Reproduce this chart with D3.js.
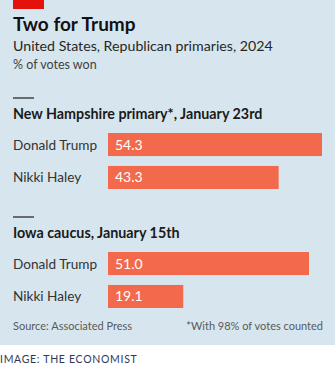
<!DOCTYPE html>
<html>
<head>
<meta charset="utf-8">
<script src="https://cdn.jsdelivr.net/npm/d3@7"></script>
<style>
  body { margin: 0; background: #fff; }
  text { font-family: Lato, "Open Sans", sans-serif; }
</style>
</head>
<body>
<svg id="chart"></svg>
<script>
// Results for each contest
var contests = ["New Hampshire primary*, January 23rd", "Iowa caucus, January 15th"];
var candidates = ["Donald Trump", "Nikki Haley"];
var nhValues = [54.3, 43.3];
var iowaValues = [51.0, 19.1];
var seriesValues = [nhValues, iowaValues];

var width = 336;
var height = 372;
var panelHeight = 345;
var barColor = "#f2694b";

var svg = d3.select("#chart")
    .attr("width", width)
    .attr("height", height);

// Background panel
svg.append("rect")
    .attr("width", 335)
    .attr("height", panelHeight)
    .attr("fill", "#d7e6ee");

// Red tag at the top
svg.append("rect")
    .attr("x", 13).attr("y", 0)
    .attr("width", 31).attr("height", 9)
    .attr("fill", "#e3120b");

svg.append("text")
    .attr("x", 13).attr("y", 31)
    .attr("font-size", 19).attr("font-weight", 700)
    .attr("fill", "#121212")
    .text("Two for Trump");

svg.append("text")
    .attr("x", 13).attr("y", 51)
    .attr("font-size", 14.2)
    .attr("fill", "#262626")
    .text("United States, Republican primaries, 2024");

svg.append("text")
    .attr("x", 13).attr("y", 69)
    .attr("font-size", 12.5)
    .attr("fill", "#3f3f3f")
    .text("% of votes won");

// Shared x scale: zero sits at the left edge of the bars
var x = d3.scaleLinear([0, 54.3], [108, 322]);

var y = d3.scaleBand()
    .domain(candidates)
    .range([0, 56])
    .paddingInner(0.3)
    .paddingOuter(0);

var blockTops = [98, 217];

contests.forEach(function (name, k) {
    var g = svg.append("g")
        .attr("transform", "translate(0," + blockTops[k] + ")");

    g.append("line")
        .attr("x1", 13).attr("x2", 34)
        .attr("y1", 0).attr("y2", 0)
        .attr("stroke", "#1a1a1a")
        .attr("stroke-width", 1.2);

    g.append("text")
        .attr("x", 13).attr("y", 21)
        .attr("font-size", 14.3).attr("font-weight", 700)
        .attr("fill", "#1a1a1a")
        .text(name);

    var bars = g.append("g")
        .attr("transform", "translate(0," + 35 + ")");

    var rows = bars.selectAll("g")
        .data(seriesValues[k])
        .enter()
        .append("g")
        .attr("transform", function (d, i) {
            return "translate(0," + y(candidates[i]) + ")";
        });

    rows.append("rect")
        .attr("x", x(0))
        .attr("width", function (d) { return x(d) - x(0); })
        .attr("height", y.bandwidth())
        .attr("fill", barColor);

    rows.append("text")
        .attr("x", x(0) + 7)
        .attr("y", y.bandwidth() / 2 + 5)
        .attr("font-size", 14)
        .attr("fill", "#ffffff")
        .text(function (d) { return d.toFixed(1); });

    rows.append("text")
        .attr("x", 13)
        .attr("y", y.bandwidth() / 2 + 5)
        .attr("font-size", 13.6)
        .attr("fill", "#333333")
        .text(function (d, i) { return candidates[i]; });
});

svg.append("text")
    .attr("x", 13).attr("y", 330)
    .attr("font-size", 11)
    .attr("fill", "#595959")
    .text("Source: Associated Press");

svg.append("text")
    .attr("x", 323).attr("y", 330)
    .attr("text-anchor", "end")
    .attr("font-size", 11)
    .attr("fill", "#595959")
    .text("*With 98% of votes counted");

svg.append("text")
    .attr("x", 0).attr("y", 363)
    .attr("font-size", 10.5)
    .attr("letter-spacing", 0.7)
    .attr("fill", "#2e3a55")
    .text("IMAGE: THE ECONOMIST");
</script>
</body>
</html>
